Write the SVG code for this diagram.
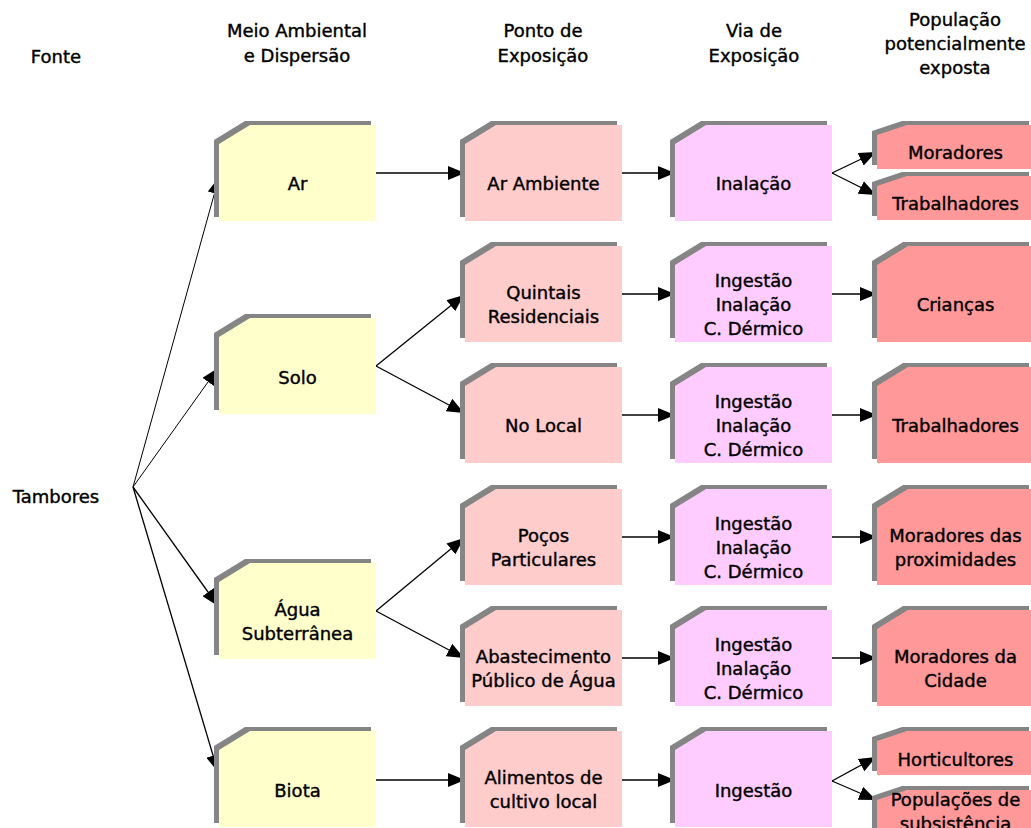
<svg xmlns="http://www.w3.org/2000/svg" xmlns:xlink="http://www.w3.org/1999/xlink" width="1031" height="828" viewBox="0 0 1031 828">
<style>
text{font-family:"DejaVu Sans","Liberation Sans",sans-serif;font-size:18px;fill:#000;stroke:#000;stroke-width:0.4;text-anchor:middle}
.sh{fill:#858585}
.y{fill:#FFFFCC}
.p{fill:#FFCCCC}
.m{fill:#FFCCFF}
.r{fill:#FF9999}
.c line{stroke:#000;stroke-width:1.3;marker-end:url(#ah)}
.c line.t{stroke-width:1}
</style>
<defs>
<marker id="ah" markerUnits="userSpaceOnUse" markerWidth="17" markerHeight="14" refX="17" refY="7" orient="auto"><path d="M0,0 L17,7 L0,14 Z" fill="#000"/></marker>
<path id="big" d="M0,19 L31,0 H157 V96 H0 Z"/>
<path id="small" d="M0,10 L30,0 H157 V44 H0 Z"/>
</defs>
<rect width="1031" height="828" fill="#fff"/>
<g id="headers">
<text x="56" y="63">Fonte</text>
<text x="297" y="37">Meio Ambiental</text><text x="297" y="62">e Dispersão</text>
<text x="543" y="37">Ponto de</text><text x="543" y="62">Exposição</text>
<text x="754" y="37">Via de</text><text x="754" y="62">Exposição</text>
<text x="955" y="26">População</text><text x="955" y="50">potencialmente</text><text x="955" y="74">exposta</text>
</g>
<g class="c" id="connectors">
<line class="t" x1="133" y1="487" x2="219" y2="177"/>
<line class="t" x1="133" y1="487" x2="218" y2="368"/>
<line x1="133" y1="487" x2="218" y2="606"/>
<line x1="133" y1="487" x2="218" y2="772"/>
<line x1="376" y1="173" x2="465" y2="173"/>
<line x1="622" y1="173" x2="675" y2="173"/>
<line x1="832" y1="173" x2="876" y2="152"/>
<line x1="832" y1="173" x2="876" y2="195"/>
<line x1="376" y1="366" x2="464" y2="295"/>
<line x1="376" y1="366" x2="464" y2="413"/>
<line x1="622" y1="294" x2="675" y2="294"/>
<line x1="832" y1="294" x2="877" y2="294"/>
<line x1="622" y1="415" x2="675" y2="415"/>
<line x1="832" y1="415" x2="877" y2="415"/>
<line x1="376" y1="611" x2="464" y2="538"/>
<line x1="376" y1="611" x2="464" y2="658"/>
<line x1="622" y1="537" x2="675" y2="537"/>
<line x1="832" y1="537" x2="877" y2="537"/>
<line x1="622" y1="658" x2="675" y2="658"/>
<line x1="832" y1="658" x2="877" y2="658"/>
<line x1="376" y1="780" x2="465" y2="780"/>
<line x1="622" y1="780" x2="675" y2="780"/>
<line x1="832" y1="781" x2="876" y2="757"/>
<line x1="832" y1="781" x2="876" y2="800"/>
</g>
<g id="n-tambores"><text x="56" y="503">Tambores</text></g>
<g id="n-ar" transform="translate(219,125)"><use xlink:href="#big" class="sh" x="-5" y="-4"/><use xlink:href="#big" class="y"/><text x="78.5" y="65">Ar</text></g>
<g id="n-solo" transform="translate(219,318)"><use xlink:href="#big" class="sh" x="-5" y="-4"/><use xlink:href="#big" class="y"/><text x="78.5" y="66">Solo</text></g>
<g id="n-agua" transform="translate(219,563)"><use xlink:href="#big" class="sh" x="-5" y="-4"/><use xlink:href="#big" class="y"/><text x="78.5" y="53">Água</text><text x="78.5" y="77">Subterrânea</text></g>
<g id="n-biota" transform="translate(219,731)"><use xlink:href="#big" class="sh" x="-5" y="-4"/><use xlink:href="#big" class="y"/><text x="78.5" y="66">Biota</text></g>
<g id="n-arambiente" transform="translate(465,125)"><use xlink:href="#big" class="sh" x="-5" y="-4"/><use xlink:href="#big" class="p"/><text x="78.5" y="65">Ar Ambiente</text></g>
<g id="n-quintais" transform="translate(465,246)"><use xlink:href="#big" class="sh" x="-5" y="-4"/><use xlink:href="#big" class="p"/><text x="78.5" y="53">Quintais</text><text x="78.5" y="77">Residenciais</text></g>
<g id="n-nolocal" transform="translate(465,367)"><use xlink:href="#big" class="sh" x="-5" y="-4"/><use xlink:href="#big" class="p"/><text x="78.5" y="65">No Local</text></g>
<g id="n-pocos" transform="translate(465,489)"><use xlink:href="#big" class="sh" x="-5" y="-4"/><use xlink:href="#big" class="p"/><text x="78.5" y="53">Poços</text><text x="78.5" y="77">Particulares</text></g>
<g id="n-abastecimento" transform="translate(465,610)"><use xlink:href="#big" class="sh" x="-5" y="-4"/><use xlink:href="#big" class="p"/><text x="78.5" y="53">Abastecimento</text><text x="78.5" y="77">Público de Água</text></g>
<g id="n-alimentos" transform="translate(465,731)"><use xlink:href="#big" class="sh" x="-5" y="-4"/><use xlink:href="#big" class="p"/><text x="78.5" y="53">Alimentos de</text><text x="78.5" y="77">cultivo local</text></g>
<g id="n-inalacao" transform="translate(675,125)"><use xlink:href="#big" class="sh" x="-5" y="-4"/><use xlink:href="#big" class="m"/><text x="78.5" y="65">Inalação</text></g>
<g id="n-via2" transform="translate(675,246)"><use xlink:href="#big" class="sh" x="-5" y="-4"/><use xlink:href="#big" class="m"/><text x="78.5" y="41">Ingestão</text><text x="78.5" y="65">Inalação</text><text x="78.5" y="89">C. Dérmico</text></g>
<g id="n-via3" transform="translate(675,367)"><use xlink:href="#big" class="sh" x="-5" y="-4"/><use xlink:href="#big" class="m"/><text x="78.5" y="41">Ingestão</text><text x="78.5" y="65">Inalação</text><text x="78.5" y="89">C. Dérmico</text></g>
<g id="n-via4" transform="translate(675,489)"><use xlink:href="#big" class="sh" x="-5" y="-4"/><use xlink:href="#big" class="m"/><text x="78.5" y="41">Ingestão</text><text x="78.5" y="65">Inalação</text><text x="78.5" y="89">C. Dérmico</text></g>
<g id="n-via5" transform="translate(675,610)"><use xlink:href="#big" class="sh" x="-5" y="-4"/><use xlink:href="#big" class="m"/><text x="78.5" y="41">Ingestão</text><text x="78.5" y="65">Inalação</text><text x="78.5" y="89">C. Dérmico</text></g>
<g id="n-ingestao" transform="translate(675,731)"><use xlink:href="#big" class="sh" x="-5" y="-4"/><use xlink:href="#big" class="m"/><text x="78.5" y="66">Ingestão</text></g>
<g id="n-moradores" transform="translate(877,125)"><use xlink:href="#small" class="sh" x="-5" y="-4"/><use xlink:href="#small" class="r"/><text x="78.5" y="34">Moradores</text></g>
<g id="n-trabalhadores1" transform="translate(877,176)"><use xlink:href="#small" class="sh" x="-5" y="-4"/><use xlink:href="#small" class="r"/><text x="78.5" y="34">Trabalhadores</text></g>
<g id="n-criancas" transform="translate(877,246)"><use xlink:href="#big" class="sh" x="-5" y="-4"/><use xlink:href="#big" class="r"/><text x="78.5" y="65">Crianças</text></g>
<g id="n-trabalhadores2" transform="translate(877,367)"><use xlink:href="#big" class="sh" x="-5" y="-4"/><use xlink:href="#big" class="r"/><text x="78.5" y="65">Trabalhadores</text></g>
<g id="n-proximidades" transform="translate(877,489)"><use xlink:href="#big" class="sh" x="-5" y="-4"/><use xlink:href="#big" class="r"/><text x="78.5" y="53">Moradores das</text><text x="78.5" y="77">proximidades</text></g>
<g id="n-cidade" transform="translate(877,610)"><use xlink:href="#big" class="sh" x="-5" y="-4"/><use xlink:href="#big" class="r"/><text x="78.5" y="53">Moradores da</text><text x="78.5" y="77">Cidade</text></g>
<g id="n-horticultores" transform="translate(877,731)"><use xlink:href="#small" class="sh" x="-5" y="-4"/><use xlink:href="#small" class="r"/><text x="78.5" y="35">Horticultores</text></g>
<g id="n-subsistencia" transform="translate(877,790)"><use xlink:href="#small" class="sh" x="-5" y="-4"/><use xlink:href="#small" class="r"/><text x="78.5" y="16">Populações de</text><text x="78.5" y="40">subsistência</text></g>
</svg>
